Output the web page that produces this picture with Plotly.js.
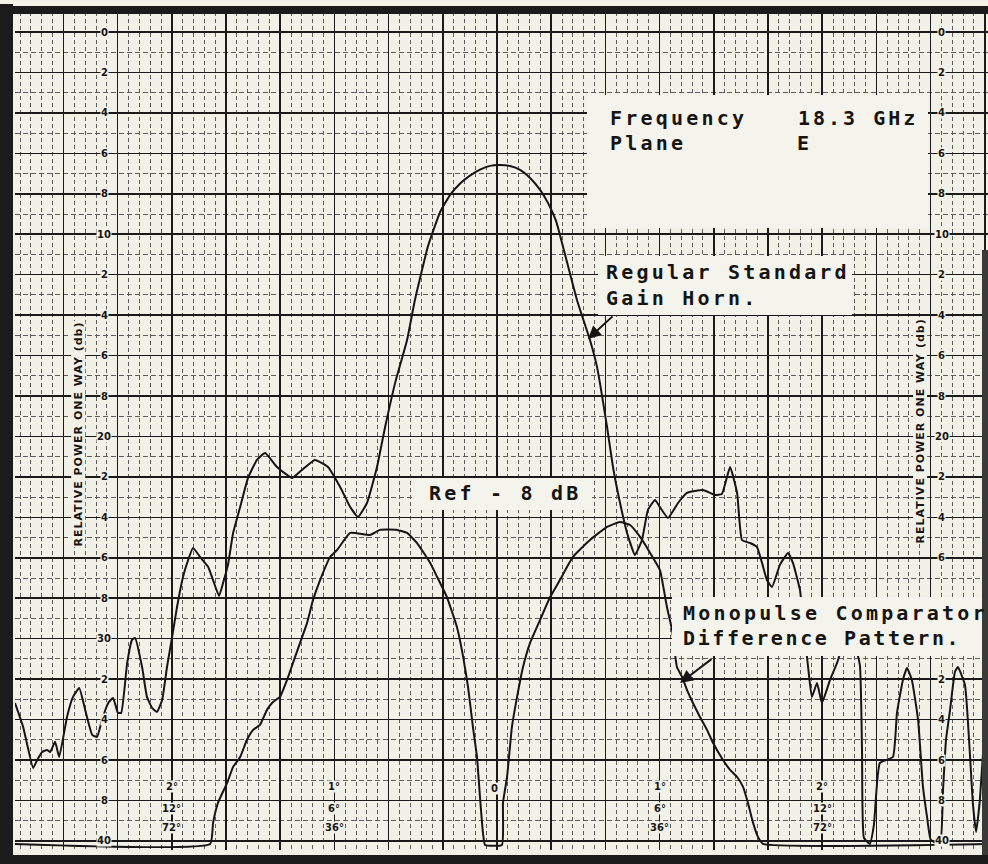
<!DOCTYPE html>
<html><head><meta charset="utf-8">
<script src="https://cdn.plot.ly/plotly-3.0.1.min.js"></script>
<style>html,body{margin:0;padding:0;background:#f2f1e8;}#chart{width:988px;height:864px;}</style>
</head><body><div id="chart"></div>
<script>
// Regular standard gain horn (angle in degrees, relative power in dB down)
const hornAngle = [-17.79,-17.49,-17.12,-16.97,-16.79,-16.61,-16.49,-16.31,-16.16,-15.87,
 -15.65,-15.42,-15.20,-14.94,-14.76,-14.58,-14.35,-14.17,-13.99,-13.87,
 -13.65,-13.47,-13.36,-13.10,-12.92,-12.73,-12.55,-12.36,-12.18,-11.99,
 -11.81,-11.59,-11.40,-11.22,-10.96,-10.66,-10.48,-10.26,-10.11,-9.93,
 -9.74,-9.48,-9.19,-8.86,-8.56,-8.12,-7.56,-7.20,-6.72,-6.24,
 -5.79,-5.42,-5.13,-4.80,-4.43,-4.13,-3.76,-3.32,-3.03,-2.55,
 -2.10,-1.73,-1.37,-1.00,-0.63,-0.26,0.11,0.48,0.85,1.22,
 1.59,1.88,2.18,2.51,2.95,3.43,3.69,4.06,4.28,4.54,
 4.80,5.09,5.35,5.57,5.83,6.01,6.31,6.68,7.01,7.60,
 8.04,8.30,8.60,8.86,9.04,9.34,9.59,9.78,9.96,10.15,
 10.44,10.74,10.92,11.18,11.33,11.48,11.62,11.81,11.99,12.29,
 12.55,12.84,13.14,13.39,13.47,13.54,13.76,13.91,14.13,14.61,
 14.76,14.98,15.13,15.31,15.54,15.72,15.87,16.01,16.35,16.46,
 16.57,16.72,16.90,17.01,17.27,17.45,17.56,17.68,17.82,17.97,18.12];
const hornDb = [33.18,34.36,36.39,36.0,35.6,35.5,35.6,35.1,35.85,33.87,
 32.88,32.44,33.52,34.76,34.86,34.02,33.18,32.93,33.67,33.67,
 31.2,30.06,29.96,31.4,32.88,33.42,33.62,33.03,31.4,29.91,
 28.43,26.95,26.11,25.51,25.96,26.45,27.1,27.89,27.24,26.35,
 24.77,23.49,22.05,21.16,20.82,21.51,22.05,21.66,21.16,21.51,
 22.5,23.49,23.98,23.29,21.51,19.53,17.35,15.23,13.25,10.6,
 8.9,8.05,7.5,7.1,6.8,6.62,6.58,6.63,6.82,7.22,
 7.81,8.45,9.35,11.0,13.25,15.23,16.56,19.53,21.51,23.29,
 24.77,25.86,25.12,23.63,23.14,23.49,24.03,23.29,22.79,22.65,
 22.89,22.84,21.51,22.79,25.12,25.27,25.46,26.25,27.1,27.44,
 26.35,25.76,26.25,27.59,29.57,31.4,32.88,32.19,33.18,32.04,
 31.2,30.06,30.06,31.3,35.5,39.85,40.15,39.21,36.14,35.85,
 33.67,32.04,31.45,32.04,34.02,37.33,38.81,39.95,40.15,37.48,
 35.0,33.52,31.64,31.4,32.29,35.65,38.12,39.56,37.97,35.0,33.03];

// Monopulse comparator difference pattern
const diffAngle = [-17.79,-10.59,-10.48,-10.30,-9.96,-9.74,-9.48,-9.23,-9.00,-8.75,
 -8.49,-8.27,-8.01,-7.75,-7.53,-7.27,-7.01,-6.79,-6.53,-6.16,
 -5.90,-5.42,-4.69,-4.32,-3.69,-3.32,-2.95,-2.47,-2.21,-1.85,
 -1.48,-1.25,-1.07,-0.89,-0.74,-0.63,-0.52,-0.44,0.18,0.22,
 0.37,0.55,0.74,0.96,1.22,1.59,1.96,2.32,2.80,3.43,
 4.06,4.54,4.91,5.28,5.65,6.01,6.27,6.46,6.64,6.83,
 7.01,7.23,7.49,7.75,7.97,8.34,8.60,8.86,9.08,9.26,
 9.45,9.63,9.82,18.12];
const diffDb = [40.15,40.15,39.11,38.12,37.13,36.34,35.85,35.0,34.51,34.26,
 33.52,33.13,32.88,32.04,31.2,30.21,29.22,28.08,27.1,25.96,
 25.61,24.77,24.87,24.62,24.62,24.77,25.27,26.25,26.95,27.94,
 29.42,30.9,32.39,34.36,35.85,37.82,39.6,40.2,40.2,38.12,
 36.84,34.36,32.88,31.4,30.21,29.07,27.94,27.1,25.96,25.12,
 24.47,24.23,24.38,24.97,25.76,26.6,28.43,29.57,31.4,31.89,
 32.53,33.18,33.87,34.51,35.15,36.0,36.49,36.84,37.33,38.12,
 39.11,39.8,40.15,40.15];

// Chart-paper scale labels
const dbTickValues = [0,2,4,6,8,10,12,14,16,18,20,22,24,26,28,30,32,34,36,38,40];
const dbTickLabels = ['0','2','4','6','8','10','2','4','6','8','20','2','4','6','8','30','2','4','6','8','40'];
const rightHidden = [28,30]; // covered by the pasted label on the right
const angleTickValues = [-12,-6,6,12];
const angleTickRows = [['2°','12°','72°'],['1°','6°','36°'],['1°','6°','36°'],['2°','12°','72°']];
const axisTitle = 'RELATIVE POWER ONE WAY (db)';

const PAPER = '#f2f1e8', BOX = '#f5f4ec', INK = '#151515';
const PL=15, PR=988, PT=12, PB=850;
const fx = p => (p-PL)/(PR-PL);
const fy = p => (PB-p)/(PB-PT);
const mono = {family:'"DejaVu Sans Mono", monospace', size:20, color:INK};
const ls = (t,s) => '<span style="letter-spacing:'+s+'px"><b>'+t+'</b></span>';

const traces = [
 {x:hornAngle, y:hornDb, type:'scatter', mode:'lines', line:{color:INK, width:2, shape:'spline', smoothing:0.4}, hoverinfo:'skip'},
 {x:diffAngle, y:diffDb, type:'scatter', mode:'lines', line:{color:INK, width:2, shape:'spline', smoothing:0.4}, hoverinfo:'skip'}
];

const shapes = [
 {type:'rect', xref:'paper', yref:'y', x0:0, x1:1, y0:-1.2, y1:-0.06, fillcolor:PAPER, line:{width:0}, layer:'between'},
 {type:'rect', xref:'paper', yref:'y', x0:0, x1:1, y0:40.06, y1:40.6, fillcolor:PAPER, line:{width:0}, layer:'between'},
 {type:'rect', xref:'paper', yref:'paper', x0:fx(0), x1:fx(13), y0:fy(864), y1:fy(4), fillcolor:'#1b1b1b', line:{width:0}, layer:'above'},
 {type:'rect', xref:'paper', yref:'paper', x0:fx(0), x1:fx(988), y0:fy(14), y1:fy(6), fillcolor:'#1b1b1b', line:{width:0}, layer:'above'},
 {type:'rect', xref:'paper', yref:'paper', x0:fx(0), x1:fx(988), y0:fy(864), y1:fy(855), fillcolor:'#1b1b1b', line:{width:0}, layer:'above'},
 {type:'rect', xref:'paper', yref:'paper', x0:fx(982), x1:fx(988), y0:fy(855), y1:fy(250), fillcolor:'#3a3a3a', line:{width:0}, layer:'above'},
 {type:'rect', xref:'paper', yref:'paper', x0:fx(587), x1:fx(928), y0:fy(228), y1:fy(95), fillcolor:BOX, line:{width:0}, layer:'above'},
 {type:'rect', xref:'paper', yref:'paper', x0:fx(598), x1:fx(852), y0:fy(315), y1:fy(256), fillcolor:BOX, line:{width:0}, layer:'above'},
 {type:'rect', xref:'paper', yref:'paper', x0:fx(415), x1:fx(592), y0:fy(510), y1:fy(478), fillcolor:BOX, line:{width:0}, layer:'above'},
 {type:'rect', xref:'paper', yref:'paper', x0:fx(672), x1:fx(982), y0:fy(656), y1:fy(597), fillcolor:BOX, line:{width:0}, layer:'above'}
];

const ann = [];
function txt(t, px, py){ ann.push({text:t, xref:'paper', yref:'paper', x:fx(px), y:fy(py), xanchor:'left', yanchor:'middle', showarrow:false, font:mono}); }
txt(ls('Frequency',3.2), 608, 118);
txt(ls('18.3 GHz',3.0), 796, 118);
txt(ls('Plane',3.2), 608, 143);
txt(ls('E',3.2), 795, 143);
txt(ls('Regular Standard',3.2), 604, 272);
txt(ls('Gain Horn.',3.2), 604, 298);
txt(ls('Ref - 8 dB',3.2), 427, 493);
txt(ls('Monopulse Comparator',3.2), 681, 613);
txt(ls('Difference Pattern.',2.6), 681, 638);

ann.push({text:'', xref:'paper', yref:'paper', x:fx(588), y:fy(339), ax:26, ay:-24, showarrow:true, arrowhead:2, arrowsize:1.3, arrowwidth:2, arrowcolor:INK});
ann.push({text:'', xref:'paper', yref:'paper', x:fx(680), y:fy(683), ax:33, ay:-25, showarrow:true, arrowhead:2, arrowsize:1.3, arrowwidth:2, arrowcolor:INK});

const small = {family:'"DejaVu Sans", sans-serif', size:10, color:INK};
dbTickValues.forEach((v,i)=>{
  [-14.5, 16.42].forEach(xv=>{
    if (xv > 0 && rightHidden.includes(v)) return;
    ann.push({text:'<b>'+dbTickLabels[i]+'</b>', x:xv, y:v, xref:'x', yref:'y', showarrow:false, font:small, bgcolor:PAPER, borderpad:0, xanchor:'center', yanchor:'middle'});
  });
});
[[-15.46,19.9],[15.61,19.7]].forEach(p=>{
  ann.push({text:'<span style="letter-spacing:1px"><b>'+axisTitle+'</b></span>', x:p[0], y:p[1], xref:'x', yref:'y', textangle:-90, showarrow:false, font:{family:'"DejaVu Sans", sans-serif', size:11, color:INK}, bgcolor:PAPER, borderpad:0});
});
const angRowsDb = [37.33,38.42,39.36];
angleTickValues.forEach((a,i)=>{
  angleTickRows[i].forEach((t,j)=>{
    ann.push({text:'<b>'+t+'</b>', x:a, y:angRowsDb[j], xref:'x', yref:'y', showarrow:false, font:{family:'"DejaVu Sans", sans-serif', size:10, color:INK}, bgcolor:PAPER, borderpad:0});
  });
});
ann.push({text:'<b>0</b>', x:-0.1, y:37.43, xref:'x', yref:'y', showarrow:false, font:{family:'"DejaVu Sans", sans-serif', size:10, color:INK}, bgcolor:PAPER, borderpad:0});

const layout = {
  width:988, height:864,
  margin:{l:PL, r:988-PR, t:PT, b:864-PB, pad:0},
  paper_bgcolor:PAPER, plot_bgcolor:PAPER,
  showlegend:false,
  xaxis:{range:[-17.79,18.12], tick0:0, dtick:2, showgrid:true, gridcolor:'#1a1a1a', gridwidth:1.6,
         zeroline:false, showticklabels:false, ticks:'', showline:false, fixedrange:true,
         minor:{tick0:0, dtick:0.4, showgrid:true, gridcolor:'#5e5e5e', gridwidth:1, griddash:'4px,3px'}},
  yaxis:{range:[40.45,-0.99], tick0:0, dtick:2, showgrid:true, gridcolor:'#1a1a1a', gridwidth:1.6,
         zeroline:false, showticklabels:false, ticks:'', showline:false, fixedrange:true,
         minor:{tick0:0, dtick:1, showgrid:true, gridcolor:'#5e5e5e', gridwidth:1, griddash:'5px,3px'}},
  shapes:shapes,
  annotations:ann
};
Plotly.newPlot('chart', traces, layout, {staticPlot:true, displayModeBar:false});
</script></body></html>
